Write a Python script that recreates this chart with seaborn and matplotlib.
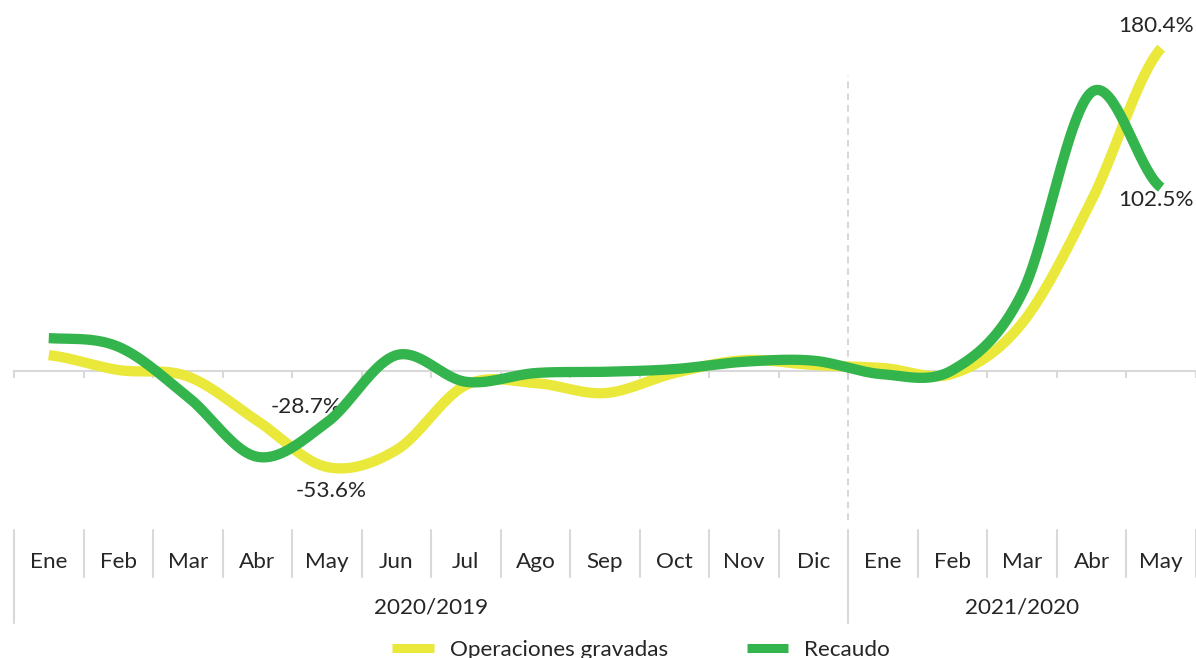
import numpy as np
import matplotlib.pyplot as plt
import seaborn as sns
from matplotlib.lines import Line2D

# Data (variacion % anual)
meses = ['Ene', 'Feb', 'Mar', 'Abr', 'May', 'Jun', 'Jul', 'Ago', 'Sep', 'Oct', 'Nov', 'Dic',
         'Ene', 'Feb', 'Mar', 'Abr', 'May']
periodos = ['2020/2019', '2021/2020']
meses_por_periodo = [12, 5]
operaciones = [8.9, 0.6, -3.0, -27.8, -53.6, -44.1, -7.8, -6.7, -12.3, -1.1, 6.1, 3.4,
               1.7, -1.5, 26.8, 95.5, 180.4]
recaudo = [18.4, 13.6, -14.4, -47.9, -28.7, 8.9, -6.0, -1.1, -0.4, 1.1, 5.2, 5.8,
           -1.8, 0.6, 43.6, 155.9, 102.5]

AMARILLO = '#EAE83A'
VERDE = '#34B44C'
GRIS = '#D9D9D9'

sns.set_style('white')
plt.rcParams['font.family'] = ['Lato', 'DejaVu Sans']


def suavizar(vals, n=40):
    # curva suavizada tipo Excel (bezier con puntos de control catmull-rom)
    p = np.array(vals, dtype=float)
    xs, ys = [], []
    for i in range(len(p) - 1):
        p0 = p[i - 1] if i > 0 else p[i]
        p3 = p[i + 2] if i + 2 < len(p) else p[i + 1]
        c1 = p[i] + (p[i + 1] - p0) / 6
        c2 = p[i + 1] - (p3 - p[i]) / 6
        t = np.linspace(0, 1, n, endpoint=(i == len(p) - 2))
        y = (1 - t) ** 3 * p[i] + 3 * (1 - t) ** 2 * t * c1 + 3 * (1 - t) * t ** 2 * c2 + t ** 3 * p[i + 1]
        xs.extend(i + t)
        ys.extend(y)
    return np.array(xs), np.array(ys)


W, H = 1196, 658
fig = plt.figure(figsize=(W / 100, H / 100), dpi=100)
x0 = 14 / W
ax = fig.add_axes([x0, (H - 520) / H, 1 - x0, 520 / H])

xo, yo = suavizar(operaciones)
xr, yr = suavizar(recaudo)
sns.lineplot(x=xo, y=yo, ax=ax, color=AMARILLO, lw=7.4, estimator=None, sort=False,
             solid_capstyle='butt', zorder=3)
sns.lineplot(x=xr, y=yr, ax=ax, color=VERDE, lw=7.4, estimator=None, sort=False,
             solid_capstyle='butt', zorder=4)

ax.set_xlim(-0.5, -0.5 + (W - 14) / 69.65)
ax.set_ylim(-83.2, 207.3)
for s in ['top', 'right', 'left']:
    ax.spines[s].set_visible(False)
ax.spines['bottom'].set_position(('data', 0))
ax.spines['bottom'].set_color(GRIS)
ax.spines['bottom'].set_linewidth(1.5)
ax.set_xticks(np.arange(-0.5, len(meses), 1))
ax.set_xticklabels([])
ax.tick_params(axis='x', direction='out', length=5, width=1.5, color=GRIS, bottom=True)
ax.set_yticks([])
ax.set_xlabel('')
ax.set_ylabel('')

# separador entre periodos
ax.plot([11.5, 11.5], [-83.2, 165], color='#D0D0D0', lw=1.2, ls=(0, (4, 3)), zorder=1)

# etiquetas de datos
fs = 16.2
ult = len(meses) - 1
ax.annotate(f'{operaciones[ult]:.1f}%', (ult, operaciones[ult]), xytext=(-3.6, 16),
            textcoords='offset points', ha='center', va='center', fontsize=fs)
ax.annotate(f'{recaudo[ult]:.1f}%', (ult, recaudo[ult]), xytext=(-4, -9),
            textcoords='offset points', ha='center', va='center', fontsize=fs)
ax.annotate(f'{recaudo[4]:.1f}%', (4, recaudo[4]), xytext=(-15, 11),
            textcoords='offset points', ha='center', va='center', fontsize=fs)
ax.annotate(f'{operaciones[4]:.1f}%', (4, operaciones[4]), xytext=(3, -17),
            textcoords='offset points', ha='center', va='center', fontsize=fs)

# eje de categorias en dos niveles
lab = fig.add_axes([x0, 0, 1 - x0, (H - 520) / H])
lab.set_xlim(ax.get_xlim())
lab.set_ylim(H, 520)
lab.axis('off')
for i in range(len(meses) + 1):
    b = i - 0.5
    y_fin = 623 if i in (0, 12) else 577
    lab.plot([b, b], [530, y_fin], color=GRIS, lw=1.5, clip_on=False)
for i, m in enumerate(meses):
    lab.text(i, 562, m, ha='center', va='center', fontsize=fs)
inicio = 0
for p, n in zip(periodos, meses_por_periodo):
    lab.text(inicio + (n - 1) / 2, 607, p, ha='center', va='center', fontsize=fs)
    inicio += n

# leyenda
handles = [Line2D([], [], color=AMARILLO, lw=6.5, solid_capstyle='butt'),
           Line2D([], [], color=VERDE, lw=6.5, solid_capstyle='butt')]
fig.legend(handles, ['Operaciones gravadas', 'Recaudo'], loc='center', ncol=2,
           bbox_to_anchor=(0.536, 0.012), frameon=False, fontsize=fs,
           handlelength=1.85, handletextpad=0.7, columnspacing=3.5)

fig.savefig('out.png', dpi=100)
